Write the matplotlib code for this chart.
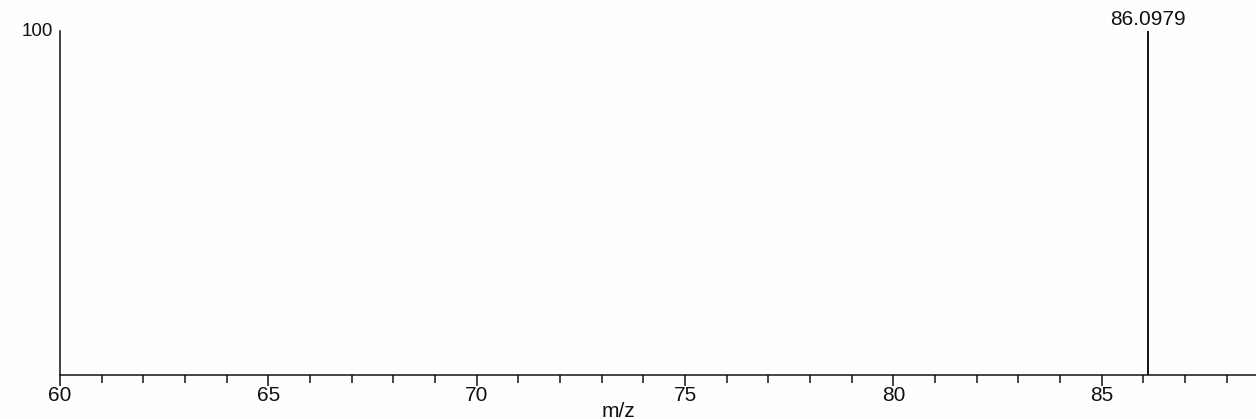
import matplotlib
matplotlib.use("Agg")
import matplotlib.pyplot as plt
from matplotlib.ticker import MultipleLocator

plt.rcParams['font.family'] = ['Liberation Sans', 'DejaVu Sans']

mz = [86.0979]
intensity = [100]
peak_labels = ["86.0979"]
xticks = [60, 65, 70, 75, 80, 85]
yticks = [100]

fig = plt.figure(figsize=(12.56, 4.19), dpi=100, facecolor='#fefefe')
ax = fig.add_axes([60/1256, 1 - 375/419, 1 - 60/1256, (375 - 31)/419])
ax.set_facecolor('#fefefe')

ax.vlines(mz, 0, intensity, colors='#111111', linewidth=1.4)
for x, y, lab in zip(mz, intensity, peak_labels):
    ax.annotate(lab, (x, y), xytext=(0, 1.5), textcoords='offset points',
                ha='center', va='bottom', fontsize=15, color='#111111')

ax.set_xlim(60, 88.7)
ax.set_ylim(0, 100)
ax.set_xticks(xticks)
ax.xaxis.set_minor_locator(MultipleLocator(1))
ax.set_yticks(yticks)
ax.tick_params(axis='x', which='major', direction='out', length=8, width=1.1,
               labelsize=15, pad=0, colors='#111111')
ax.tick_params(axis='x', which='minor', direction='out', length=5.5, width=1.1,
               colors='#111111')
ax.tick_params(axis='y', length=0, labelsize=13.5, pad=5, colors='#111111')
for lbl in ax.get_yticklabels():
    lbl.set_verticalalignment('center')

for s in ['top', 'right']:
    ax.spines[s].set_visible(False)
for s in ['left', 'bottom']:
    ax.spines[s].set_color('#111111')
    ax.spines[s].set_linewidth(1.1)

fig.text(618/1256, 1 - 411/419, 'm/z', ha='center', va='center', fontsize=15, color='#111111')

fig.savefig('out.png', dpi=100, facecolor=fig.get_facecolor())
